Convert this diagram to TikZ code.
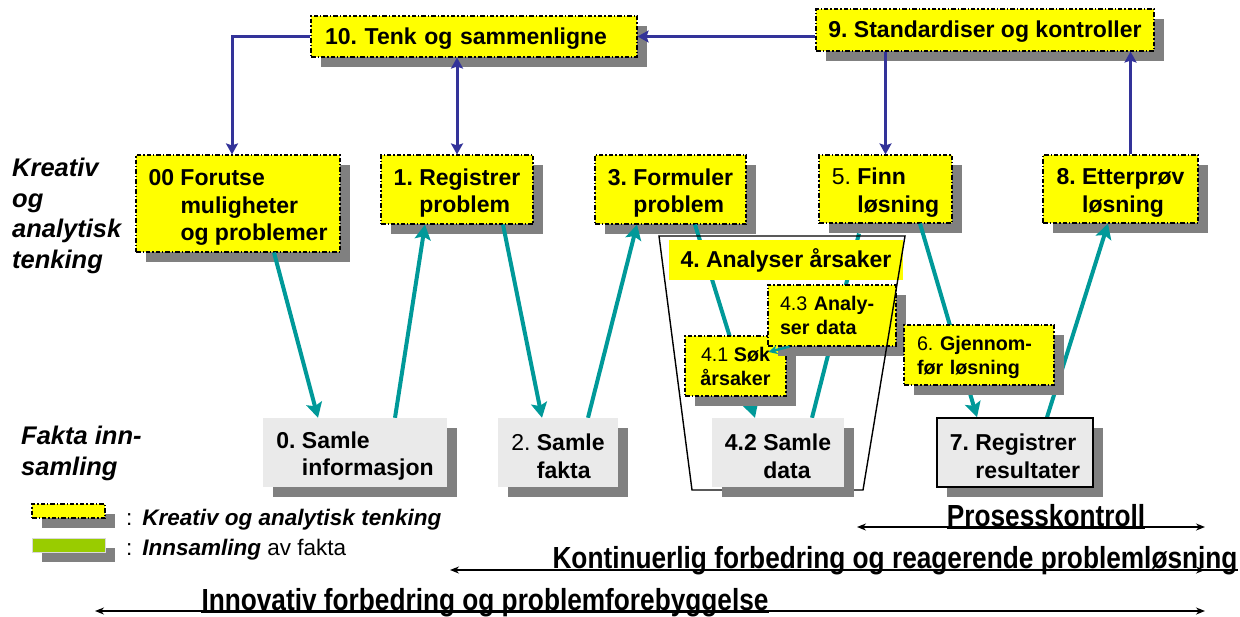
\documentclass[tikz,border=0pt]{standalone}
\usepackage{fontspec}
\setmainfont{Liberation Sans}
\newfontfamily\narrowsans[FakeStretch=0.86]{Liberation Sans}
\usetikzlibrary{arrows.meta,shadows}
\pgfdeclarelayer{lower}
\pgfdeclarelayer{middle}
\pgfsetlayers{lower,middle,main}

\definecolor{hiyellow}{HTML}{FFFF00}
\definecolor{flowteal}{HTML}{009999}
\definecolor{linkblue}{HTML}{333399}
\definecolor{shadegray}{HTML}{808080}
\definecolor{factgray}{HTML}{EAEAEA}
\definecolor{factgreen}{HTML}{99CC00}

\frenchspacing
\newcommand{\boxfont}{\fontsize{23}{27.5}\selectfont\bfseries}
\newcommand{\smallboxfont}{\fontsize{19.7}{24}\selectfont\bfseries}
\newcommand{\sidefont}{\fontsize{25.5}{30.5}\selectfont\bfseries\itshape}
\newcommand{\keyfont}{\fontsize{22.5}{27}\selectfont}
\newcommand{\spanfont}{\fontsize{30.5}{34}\selectfont\narrowsans\bfseries}
% invisible rule that adds room above the first text line of a box
\newcommand{\topgap}[1][24pt]{\rule{0pt}{#1}}

\tikzset{
  boxshadow/.style={drop shadow={shadow xshift=10pt,shadow yshift=-10pt,fill=shadegray,opacity=1}},
  think/.style={draw=black,line width=1.1pt,dash pattern=on 4.5pt off 2pt on 1.3pt off 2pt,
    fill=hiyellow,boxshadow,inner sep=0pt,align=left,font=\boxfont},
  fact/.style={fill=factgray,boxshadow,inner sep=0pt,align=left,font=\boxfont},
  plainbox/.style={fill=hiyellow,inner sep=0pt,font=\boxfont},
  flow/.style={draw=flowteal,line width=4pt,-{Stealth[length=15pt,width=16pt,inset=3pt]}},
  flowline/.style={draw=flowteal,line width=4pt},
  link/.style={draw=linkblue,line width=3pt,-{Stealth[length=11pt,width=12pt,inset=2pt]}},
  linkboth/.style={draw=linkblue,line width=3pt,
    {Stealth[length=11pt,width=12pt,inset=2pt]}-{Stealth[length=11pt,width=12pt,inset=2pt]}},
  span/.style={draw=black,line width=1.4pt,{Stealth[length=9pt,width=7pt]}-{Stealth[length=9pt,width=7pt]}},
  underbar/.style={draw=black,line width=1.4pt},
  side/.style={inner sep=0pt,align=left,font=\sidefont,anchor=base west},
  spantext/.style={inner sep=0pt,font=\spanfont,anchor=base},
}

\begin{document}
\begin{tikzpicture}[x=1pt,y=-1pt]
\useasboundingbox (0,0) rectangle (1240,616);

% upper row of thinking steps
\begin{pgfonlayer}{lower}
\node[think,minimum height=41pt,text width=298pt,inner xsep=14pt] (b10) at (474,36.5) {\topgap[20pt]10. Tenk og sammenligne};
\node[think,minimum width=338pt,minimum height=42pt] (b9) at (985,30) {\topgap[20pt]9. Standardiser og kontroller};
\node[think,minimum width=204pt,minimum height=97pt] (b00) at (238,203.5)
  {\topgap00 Forutse\\\hphantom{00 }muligheter\\\hphantom{00 }og problemer};
\node[think,minimum width=152pt,minimum height=69pt] (b1) at (457,189.5) {\topgap1. Registrer\\\hphantom{1. }problem};
\node[think,minimum width=151pt,minimum height=69pt] (b3) at (670.5,189.5) {\topgap3. Formuler\\\hphantom{3. }problem};
\node[think,minimum width=133pt,minimum height=68pt] (b5) at (885.5,189) {\topgap\textmd{5.} Finn\\\hphantom{\textmd{5.} }løsning};
\node[think,minimum width=155pt,minimum height=68pt] (b8) at (1120.5,189) {\topgap8. Etterprøv\\\hphantom{8. }løsning};
\end{pgfonlayer}

% analysis group
\node[plainbox,minimum width=234pt,minimum height=40pt] (b4) at (786,260) {4. Analyser årsaker};
\node[think,font=\smallboxfont,align=center,minimum width=101pt,minimum height=60pt] (b41) at (735.5,366)
  {\textmd{4.1} Søk\\årsaker};
\node[think,font=\smallboxfont,text width=104pt,inner xsep=12pt,minimum height=61pt] (b43) at (832,315.5)
  {\textmd{4.3} Analy-\\ser data};
\draw[line width=1.4pt] (659,236) -- (905,236) -- (863,490) -- (692,490) -- cycle;
\node[think,font=\smallboxfont,text width=124pt,inner xsep=13pt,minimum height=60pt] (b6) at (979,355)
  {\topgap[20pt]\textmd{6.} Gjennom-\\før løsning};

% fact gathering row
\node[fact,minimum width=184pt,minimum height=69pt] (b0) at (355,452.5) {\topgap0. Samle\\\hphantom{0. }informasjon};
\node[fact,minimum width=120pt,minimum height=69pt] (b2) at (558,452.5) {\topgap\textmd{2.} Samle\\\hphantom{\textmd{2.} }fakta};
\node[fact,minimum width=132pt,minimum height=69pt] (b42) at (778,452.5) {\topgap4.2 Samle\\\hphantom{4.2 }data};
\node[fact,draw=black,line width=1.5pt,minimum width=156pt,minimum height=69pt] (b7) at (1015,452.5)
  {\topgap7. Registrer\\\hphantom{7. }resultater};

% process flow
\begin{pgfonlayer}{middle}
\draw[flow] ([xshift=36pt]b00.south) -- ([xshift=-37pt]b0.north);
\draw[flow] ([xshift=40pt]b0.north) -- ([xshift=-32pt]b1.south);
\draw[flow] ([xshift=46pt]b1.south) -- ([xshift=-16pt]b2.north);
\draw[flow] ([xshift=30pt]b2.north) -- ([xshift=-33.5pt]b3.south);
\draw[flow] ([xshift=24.5pt]b3.south) -- ([xshift=-23pt]b42.north);
\draw[flowline] ([xshift=34pt]b42.north) -- ([xshift=-26.5pt,yshift=-10pt]b5.south);
\draw[flow] ([xshift=34.5pt]b5.south) -- ([xshift=-38pt]b7.north);
\draw[flow] ([xshift=32pt]b7.north) -- ([xshift=-12.5pt]b8.south);
\end{pgfonlayer}
\draw[draw=flowteal,line width=2.5pt,-{Stealth[length=9pt,width=9pt]}]
  ([xshift=22pt]b43.south west) -- ([xshift=-18pt,yshift=14pt]b41.east);

% feedback links
\draw[link] (b9.west |- b10.east) -- (b10.east);
\draw[link] (b10.west) -| ([xshift=-6pt]b00.north);
\draw[linkboth] (b1.north |- b10.south) -- (b1.north);
\draw[link] (b5.north |- b9.south) -- (b5.north);
\draw[link] ([xshift=10pt]b8.north) -- ([xshift=10pt]b8.north |- b9.south);

% row labels
\node[side] (kreativ) at (12,268) {Kreativ\\og\\analytisk\\tenking};
\node[side] (fakta) at (21,475) {Fakta inn-\\samling};

% key
\node[think,minimum width=73pt,minimum height=14pt] (keythink) at (68.5,511) {};
\node[fill=factgreen,draw=black!15,line width=1pt,boxshadow,minimum width=73pt,minimum height=14pt,inner sep=0pt]
  (keyfact) at (68.5,545) {};
\node[anchor=base west,inner sep=0pt,font=\keyfont] (keythinktext) at (126,525)
  {:\hspace{10pt}\textbf{\textit{Kreativ og analytisk tenking}}};
\node[anchor=base west,inner sep=0pt,font=\keyfont] (keyfacttext) at (126,555)
  {:\hspace{10pt}\textbf{\textit{Innsamling}} av fakta};

% scope of improvement work
\coordinate (pk1) at (857,527);
\coordinate (pk2) at (1205,527);
\draw[span] (pk1) -- (pk2);
\node[spantext] (pktext) at (1046,526) {Prosesskontroll};
\draw[underbar] ([yshift=-2pt]pktext.base west) -- ([yshift=-2pt]pktext.base east);
\coordinate (kf1) at (450,570);
\coordinate (kf2) at (1205,570);
\draw[span] (kf1) -- (kf2);
\node[spantext] (kftext) at (895,568) {Kontinuerlig forbedring og reagerende problemløsning};
\draw[underbar] ([yshift=-2pt]kftext.base west) -- ([yshift=-2pt]kftext.base east);
\coordinate (if1) at (95,611);
\coordinate (if2) at (1205,611);
\draw[span] (if1) -- (if2);
\node[spantext] (iftext) at (485,610) {Innovativ forbedring og problemforebyggelse};
\draw[underbar] ([yshift=-2pt]iftext.base west) -- ([yshift=-2pt]iftext.base east);
\end{tikzpicture}
\end{document}
